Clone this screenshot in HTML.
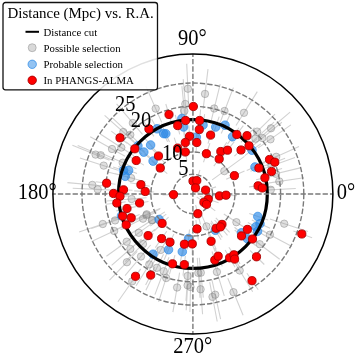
<!DOCTYPE html>
<html><head><meta charset="utf-8"><style>
html,body{margin:0;padding:0;background:#fff;}
body{width:357px;height:355px;overflow:hidden;position:relative;}
svg{position:absolute;left:0;top:0;will-change:transform;}
text{font-family:"Liberation Serif",serif;fill:#000;}
</style></head><body>
<svg width="357" height="355" viewBox="0 0 357 355">
<rect width="357" height="355" fill="#fff"/>
<path d="M161.7 122.4L145.7 85.7M134.5 142.0L104.6 115.4M141.2 145.1L112.1 117.6M142.5 134.4L116.6 103.9M125.1 156.3L90.2 136.8M133.9 155.8L100.3 134.0M188.6 103.7L186.7 63.7M203.2 108.8L208.0 69.1M210.6 123.1L220.2 84.2M186.6 118.9L183.2 79.1M185.9 125.9L181.9 86.1M236.0 125.5L257.3 91.6M219.2 125.0L233.4 87.6M246.3 142.1L275.0 114.2M259.5 138.0L290.1 112.2M244.2 148.6L274.1 122.1M250.7 147.4L281.9 122.3M258.2 147.9L290.9 124.9M262.5 162.9L299.0 146.6M257.4 170.9L295.0 157.4M145.6 181.8L106.9 171.7M136.4 168.8L99.9 152.5M146.6 197.8L106.7 201.0M109.5 160.2L72.4 145.2M114.5 161.0L77.7 145.5M118.0 170.2L79.9 158.0M107.2 186.3L67.4 182.6M112.7 190.1L72.7 188.2M117.0 219.3L79.1 231.9M129.3 215.6L91.4 228.4M160.0 209.1L123.7 225.7M156.4 212.0L120.6 229.8M164.9 211.9L131.2 233.5M127.8 224.6L91.6 241.6M150.9 224.1L118.4 247.4M138.9 232.9L106.4 256.3M141.6 239.0L111.6 265.4M153.6 233.4L125.3 261.7M168.3 236.9L148.4 271.6M212.2 179.9L244.5 156.4M255.8 190.6L295.8 188.5M264.5 183.6L304.0 177.8M261.3 177.3L300.2 167.9M269.9 219.1L308.0 231.4M256.6 227.7L292.0 246.4M247.8 235.2L279.7 259.2M200.7 212.6L216.2 249.5M223.8 214.0L257.4 235.8M157.2 251.6L136.1 285.7M163.5 254.3L145.9 290.3M169.0 257.2L154.9 294.6M170.7 263.7L158.6 301.8M188.6 261.0L186.0 300.9M179.6 272.7L172.9 312.2M188.5 270.3L186.2 310.3M190.9 272.0L189.9 312.0M197.3 257.9L200.0 297.8M150.6 245.0L125.0 275.7M137.3 251.4L109.5 280.2M140.8 269.0L117.9 301.8M199.4 274.3L202.6 314.2M209.7 282.2L217.2 321.5M212.0 280.1L220.6 319.1M199.3 257.8L203.3 297.6M212.5 257.6L224.3 295.8M231.9 257.7L252.7 291.8M227.8 278.3L243.1 315.3M160.4 208.3L123.8 224.4M164.4 212.1L130.7 233.6M171.6 123.1L165.8 104.0M153.9 136.4L142.7 119.8M127.1 143.3L111.3 131.1M141.9 154.3L126.1 142.0M193.3 115.5L193.4 95.5M186.5 129.5L184.5 109.6M198.8 129.5L200.6 109.5M179.7 134.4L175.3 114.9M198.4 138.5L200.4 118.6M208.0 143.7L213.8 124.6M190.0 145.3L188.9 125.3M186.6 151.4L183.7 131.6M196.1 151.5L197.6 131.5M180.5 156.6L174.2 137.7M186.9 160.9L183.3 141.2M203.5 162.2L209.9 143.3M215.9 159.0L226.8 142.3M213.8 166.2L225.8 150.2M231.5 141.7L243.3 125.6M240.9 142.3L254.5 127.6M242.2 151.7L257.3 138.6M234.4 156.1L249.1 142.6M221.9 157.3L234.3 141.6M261.3 163.2L279.5 155.0M266.4 165.5L285.1 158.2M250.5 171.3L269.1 164.0M262.8 174.0L282.1 168.5M143.9 165.1L126.7 154.9M164.5 162.7L151.1 147.8M167.3 173.6L151.7 161.1M149.8 186.3L130.1 182.8M154.2 192.0L134.2 190.9M132.5 190.3L112.5 189.1M122.5 193.6L102.5 193.4M129.0 195.9L109.0 196.5M125.7 201.9L105.9 204.3M148.5 201.5L128.8 204.8M115.5 184.3L95.7 181.8M135.8 206.6L116.3 210.9M131.3 213.4L112.2 219.4M139.6 214.6L120.9 221.8M134.4 221.0L116.2 229.4M154.7 229.5L140.0 243.1M166.8 231.2L155.3 247.6M168.6 217.2L154.1 231.0M192.9 190.1L193.1 170.1M194.3 189.2L199.9 170.0M192.0 196.2L199.8 177.8M197.0 192.7L216.1 186.9M182.5 194.3L162.5 194.9M199.7 196.3L218.6 202.7M196.7 196.9L212.7 208.9M199.3 198.9L215.3 210.9M195.6 205.0L200.5 224.4M210.5 195.3L230.5 196.7M226.2 179.2L244.5 171.1M256.1 179.8L275.6 175.4M249.2 186.9L269.0 184.4M253.3 188.8L273.3 187.1M217.0 194.9L237.0 195.6M293.4 230.9L312.1 237.8M245.3 233.6L261.3 245.6M250.1 250.5L264.3 264.5M195.9 220.0L198.3 239.8M211.1 220.8L222.3 237.4M215.8 217.9L229.6 232.3M214.6 220.0L227.5 235.3M207.9 232.9L215.1 251.6M234.7 230.0L249.8 243.1M239.9 224.5L256.6 235.4M212.0 251.5L218.3 270.4M214.8 247.9L222.3 266.4M225.1 250.0L235.1 267.3M228.9 247.3L240.1 263.9M229.7 251.5L240.5 268.4M154.9 267.1L145.6 284.9M175.0 255.2L169.4 274.4M185.4 255.7L183.0 275.5M173.9 234.1L165.3 252.1M185.9 235.3L182.6 255.0M192.4 234.9L192.2 254.9M140.6 268.9L129.2 285.3M246.9 273.3L258.2 289.8M161.3 136.7L151.7 119.2M167.6 141.7L158.9 123.7M156.5 151.8L143.4 136.7M144.7 151.7L129.6 138.6M184.8 135.9L182.1 116.1M169.5 141.9L161.3 123.7M195.8 146.1L197.0 126.1M201.7 133.9L204.6 114.1M212.8 135.5L219.2 116.6M183.2 127.4L180.3 107.6M227.5 144.1L238.9 127.7M244.8 155.6L260.8 143.7M246.7 170.6L265.1 162.6M221.2 133.4L229.7 115.2M150.6 157.9L135.4 145.0M160.0 166.8L144.6 154.1M137.0 173.5L118.3 166.6M132.0 173.3L113.1 166.9M133.9 178.6L114.6 173.5M130.1 213.2L111.0 219.0M166.3 214.1L150.3 226.1M158.0 246.7L146.9 263.4M249.3 213.6L268.2 220.1M251.8 220.1L270.1 228.2M247.8 222.6L265.6 231.9M249.7 226.8L267.0 236.8M210.6 222.6L221.1 239.7M234.5 227.2L250.1 239.7M240.4 233.0L255.9 245.7M172.1 241.5L164.1 259.8M183.9 242.8L180.3 262.5M189.5 229.5L187.5 249.4" stroke="#d2d2d2" stroke-width="1.1" fill="none"/>
<g fill="#8a8a8a" fill-opacity="0.27" stroke="#808080" stroke-opacity="0.5" stroke-width="0.9"><circle cx="155.7" cy="108.6" r="3.7"/><circle cx="123.3" cy="132" r="3.7"/><circle cx="130.3" cy="134.8" r="3.7"/><circle cx="132.8" cy="123" r="3.7"/><circle cx="112" cy="149" r="3.7"/><circle cx="121.3" cy="147.6" r="3.7"/><circle cx="187.9" cy="88.7" r="3.7"/><circle cx="205" cy="93.9" r="3.7"/><circle cx="214.2" cy="108.5" r="3.7"/><circle cx="185.3" cy="104" r="3.7"/><circle cx="184.4" cy="111" r="3.7"/><circle cx="244" cy="112.8" r="3.7"/><circle cx="224.5" cy="111" r="3.7"/><circle cx="257.1" cy="131.6" r="3.7"/><circle cx="271" cy="128.3" r="3.7"/><circle cx="255.4" cy="138.7" r="3.7"/><circle cx="262.4" cy="138" r="3.7"/><circle cx="270.5" cy="139.3" r="3.7"/><circle cx="276.2" cy="156.8" r="3.7"/><circle cx="271.5" cy="165.8" r="3.7"/><circle cx="131.1" cy="178" r="3.7"/><circle cx="122.7" cy="162.7" r="3.7"/><circle cx="131.6" cy="199" r="3.7"/><circle cx="95.6" cy="154.6" r="3.7"/><circle cx="100.7" cy="155.2" r="3.7"/><circle cx="103.7" cy="165.6" r="3.7"/><circle cx="92.3" cy="184.9" r="3.7"/><circle cx="97.7" cy="189.4" r="3.7"/><circle cx="102.8" cy="224" r="3.7"/><circle cx="115.1" cy="220.4" r="3.7"/><circle cx="146.4" cy="215.3" r="3.7"/><circle cx="143" cy="218.7" r="3.7"/><circle cx="152.3" cy="220" r="3.7"/><circle cx="114.2" cy="231" r="3.7"/><circle cx="138.75" cy="232.8" r="3.7"/><circle cx="126.7" cy="241.7" r="3.7"/><circle cx="130.35" cy="248.9" r="3.7"/><circle cx="143" cy="244" r="3.7"/><circle cx="160.8" cy="249.9" r="3.7"/><circle cx="224.3" cy="171.1" r="3.7"/><circle cx="270.8" cy="189.8" r="3.7"/><circle cx="279.3" cy="181.4" r="3.7"/><circle cx="275.9" cy="173.8" r="3.7"/><circle cx="284.2" cy="223.7" r="3.7"/><circle cx="269.9" cy="234.7" r="3.7"/><circle cx="259.75" cy="244.2" r="3.7"/><circle cx="206.5" cy="226.4" r="3.7"/><circle cx="236.4" cy="222.2" r="3.7"/><circle cx="149.3" cy="264.4" r="3.7"/><circle cx="156.9" cy="267.8" r="3.7"/><circle cx="163.7" cy="271.2" r="3.7"/><circle cx="166.2" cy="278" r="3.7"/><circle cx="187.6" cy="276" r="3.7"/><circle cx="177.1" cy="287.5" r="3.7"/><circle cx="187.6" cy="285.3" r="3.7"/><circle cx="190.5" cy="287" r="3.7"/><circle cx="198.3" cy="272.9" r="3.7"/><circle cx="141" cy="256.5" r="3.7"/><circle cx="126.9" cy="262.2" r="3.7"/><circle cx="132.2" cy="281.3" r="3.7"/><circle cx="200.6" cy="289.3" r="3.7"/><circle cx="212.5" cy="296.9" r="3.7"/><circle cx="215.2" cy="294.7" r="3.7"/><circle cx="200.8" cy="272.7" r="3.7"/><circle cx="216.9" cy="271.9" r="3.7"/><circle cx="239.7" cy="270.5" r="3.7"/><circle cx="233.5" cy="292.2" r="3.7"/><circle cx="146.7" cy="214.3" r="3.7"/><circle cx="151.8" cy="220.2" r="3.7"/></g>
<g fill="rgb(40,135,230)" fill-opacity="0.65" stroke="rgb(40,135,230)" stroke-opacity="0.75" stroke-width="0.9"><circle cx="157" cy="128.8" r="4.3"/><circle cx="163.7" cy="133.6" r="4.3"/><circle cx="150.6" cy="145" r="4.3"/><circle cx="137.9" cy="145.8" r="4.3"/><circle cx="183.6" cy="127" r="4.3"/><circle cx="165.8" cy="133.7" r="4.3"/><circle cx="196.3" cy="137.1" r="4.3"/><circle cx="203" cy="125" r="4.3"/><circle cx="215.7" cy="127" r="4.3"/><circle cx="181.9" cy="118.5" r="4.3"/><circle cx="232.6" cy="136.7" r="4.3"/><circle cx="252" cy="150.2" r="4.3"/><circle cx="255" cy="167" r="4.3"/><circle cx="225" cy="125.2" r="4.3"/><circle cx="143.8" cy="152.1" r="4.3"/><circle cx="153.1" cy="161.1" r="4.3"/><circle cx="128.6" cy="170.4" r="4.3"/><circle cx="123.5" cy="170.4" r="4.3"/><circle cx="125.2" cy="176.3" r="4.3"/><circle cx="121.5" cy="215.8" r="4.3"/><circle cx="159.1" cy="219.5" r="4.3"/><circle cx="153" cy="254.2" r="4.3"/><circle cx="257.8" cy="216.5" r="4.3"/><circle cx="260" cy="223.7" r="4.3"/><circle cx="255.8" cy="226.8" r="4.3"/><circle cx="257.5" cy="231.3" r="4.3"/><circle cx="215.3" cy="230.3" r="4.3"/><circle cx="241.5" cy="232.8" r="4.3"/><circle cx="247.4" cy="238.7" r="4.3"/><circle cx="168.5" cy="249.7" r="4.3"/><circle cx="182.3" cy="251.7" r="4.3"/><circle cx="188.6" cy="238.5" r="4.3"/></g>
<circle cx="192.9" cy="194.0" r="74.4" fill="none" stroke="#000" stroke-width="3.2"/>
<g fill="none" stroke="#7a7a7a" stroke-width="1.4" stroke-dasharray="5.3 2.05">
<path d="M212.6 194.0A19.7 19.7 0 1 0 173.2 194.0A19.7 19.7 0 1 0 212.6 194.0"/><path d="M234.9 194.0A42.0 42.0 0 1 0 150.9 194.0A42.0 42.0 0 1 0 234.9 194.0"/><path d="M280.6 194.0A87.7 87.7 0 1 0 105.2 194.0A87.7 87.7 0 1 0 280.6 194.0"/><path d="M303.8 194.0A110.9 110.9 0 1 0 82.0 194.0A110.9 110.9 0 1 0 303.8 194.0"/>
<path stroke-dashoffset="2.6" d="M192.9 194.0V54.0M192.9 194.0V334.0M192.9 194.0H52.9M192.9 194.0H332.9"/>
</g>
<circle cx="192.9" cy="194.0" r="140.0" fill="none" stroke="#000" stroke-width="1.5"/>
<g fill="#f00" stroke="#a80000" stroke-width="0.9"><circle cx="169" cy="114.5" r="4.1"/><circle cx="148.9" cy="128.9" r="4.1"/><circle cx="120" cy="137.8" r="4.1"/><circle cx="134.8" cy="148.8" r="4.1"/><circle cx="193.3" cy="106.5" r="4.1"/><circle cx="185.6" cy="120.5" r="4.1"/><circle cx="199.6" cy="120.5" r="4.1"/><circle cx="177.7" cy="125.6" r="4.1"/><circle cx="199.3" cy="129.5" r="4.1"/><circle cx="210.6" cy="135.1" r="4.1"/><circle cx="189.5" cy="136.3" r="4.1"/><circle cx="185.3" cy="142.5" r="4.1"/><circle cx="196.8" cy="142.5" r="4.1"/><circle cx="177.7" cy="148.1" r="4.1"/><circle cx="185.3" cy="152" r="4.1"/><circle cx="206.4" cy="153.7" r="4.1"/><circle cx="220.8" cy="151.5" r="4.1"/><circle cx="219.2" cy="159" r="4.1"/><circle cx="236.8" cy="134.5" r="4.1"/><circle cx="247" cy="135.7" r="4.1"/><circle cx="249" cy="145.8" r="4.1"/><circle cx="241" cy="150" r="4.1"/><circle cx="227.5" cy="150.2" r="4.1"/><circle cx="269.5" cy="159.5" r="4.1"/><circle cx="274.8" cy="162.2" r="4.1"/><circle cx="258.9" cy="168" r="4.1"/><circle cx="271.5" cy="171.5" r="4.1"/><circle cx="136.2" cy="160.5" r="4.1"/><circle cx="158.5" cy="156" r="4.1"/><circle cx="160.3" cy="168" r="4.1"/><circle cx="140.9" cy="184.7" r="4.1"/><circle cx="145.2" cy="191.5" r="4.1"/><circle cx="123.5" cy="189.8" r="4.1"/><circle cx="113.5" cy="193.5" r="4.1"/><circle cx="120" cy="196.2" r="4.1"/><circle cx="116.8" cy="203" r="4.1"/><circle cx="139.6" cy="203" r="4.1"/><circle cx="106.6" cy="183.2" r="4.1"/><circle cx="127" cy="208.5" r="4.1"/><circle cx="122.7" cy="216.1" r="4.1"/><circle cx="131.2" cy="217.8" r="4.1"/><circle cx="126.2" cy="224.8" r="4.1"/><circle cx="148.1" cy="235.6" r="4.1"/><circle cx="161.6" cy="238.6" r="4.1"/><circle cx="162.1" cy="223.4" r="4.1"/><circle cx="193" cy="181.1" r="4.1"/><circle cx="196.8" cy="180.6" r="4.1"/><circle cx="195.5" cy="187.9" r="4.1"/><circle cx="205.6" cy="190.1" r="4.1"/><circle cx="173.5" cy="194.6" r="4.1"/><circle cx="208.2" cy="199.2" r="4.1"/><circle cx="203.9" cy="202.3" r="4.1"/><circle cx="206.5" cy="204.3" r="4.1"/><circle cx="197.8" cy="213.7" r="4.1"/><circle cx="219.5" cy="195.9" r="4.1"/><circle cx="234.4" cy="175.6" r="4.1"/><circle cx="264.9" cy="177.8" r="4.1"/><circle cx="258.1" cy="185.8" r="4.1"/><circle cx="262.3" cy="188" r="4.1"/><circle cx="226" cy="195.2" r="4.1"/><circle cx="301.8" cy="234" r="4.1"/><circle cx="252.5" cy="239" r="4.1"/><circle cx="256.5" cy="256.8" r="4.1"/><circle cx="197" cy="228.9" r="4.1"/><circle cx="216.1" cy="228.3" r="4.1"/><circle cx="222" cy="224.4" r="4.1"/><circle cx="220.4" cy="226.9" r="4.1"/><circle cx="211.1" cy="241.3" r="4.1"/><circle cx="241.5" cy="235.9" r="4.1"/><circle cx="247.4" cy="229.4" r="4.1"/><circle cx="214.8" cy="260" r="4.1"/><circle cx="218.2" cy="256.2" r="4.1"/><circle cx="229.6" cy="257.8" r="4.1"/><circle cx="233.9" cy="254.8" r="4.1"/><circle cx="234.6" cy="259.1" r="4.1"/><circle cx="150.7" cy="275.1" r="4.1"/><circle cx="172.5" cy="263.8" r="4.1"/><circle cx="184.3" cy="264.6" r="4.1"/><circle cx="170" cy="242.2" r="4.1"/><circle cx="184.4" cy="244.2" r="4.1"/><circle cx="192.3" cy="243.9" r="4.1"/><circle cx="135.5" cy="276.3" r="4.1"/><circle cx="252" cy="280.7" r="4.1"/></g>
<g font-size="20.5" text-anchor="middle">
<text transform="translate(183.4,175.3) scale(1,1.1)">5</text>
<text transform="translate(172.2,159.5) scale(1,1.1)">10</text>
<text transform="translate(141,126.8) scale(1,1.1)">20</text>
<text transform="translate(125.3,111.0) scale(1,1.1)">25</text>
<text transform="translate(192.3,44.8) scale(1,1.1)">90°</text>
<text transform="translate(37.2,198.6) scale(1,1.1)">180°</text>
<text transform="translate(346,199.0) scale(1,1.1)">0°</text>
<text transform="translate(192.7,353.1) scale(1,1.1)">270°</text>
</g>
<rect x="3" y="2.5" width="154.5" height="87.3" rx="2.5" fill="#fff" fill-opacity="0.88" stroke="#111" stroke-width="1.3"/>
<text x="7.5" y="18.2" font-size="14.5" textLength="146.2" lengthAdjust="spacingAndGlyphs">Distance (Mpc) vs. R.A.</text>
<line x1="25.5" y1="31.8" x2="39" y2="31.8" stroke="#000" stroke-width="2"/>
<circle cx="32.2" cy="47.7" r="4" fill="#8a8a8a" fill-opacity="0.32" stroke="#808080" stroke-opacity="0.5" stroke-width="0.9"/>
<circle cx="32.2" cy="64.3" r="4.2" fill="rgb(40,135,230)" fill-opacity="0.5" stroke="rgb(40,135,230)" stroke-opacity="0.7" stroke-width="1"/>
<circle cx="32.2" cy="80.3" r="4.2" fill="#f00" stroke="#a80000" stroke-width="0.9"/>
<g font-size="10.8">
<text x="43.5" y="35.5">Distance cut</text>
<text x="43.5" y="51.5">Possible selection</text>
<text x="43.5" y="67.5">Probable selection</text>
<text x="43.5" y="83.6">In PHANGS-ALMA</text>
</g>
</svg>
</body></html>
